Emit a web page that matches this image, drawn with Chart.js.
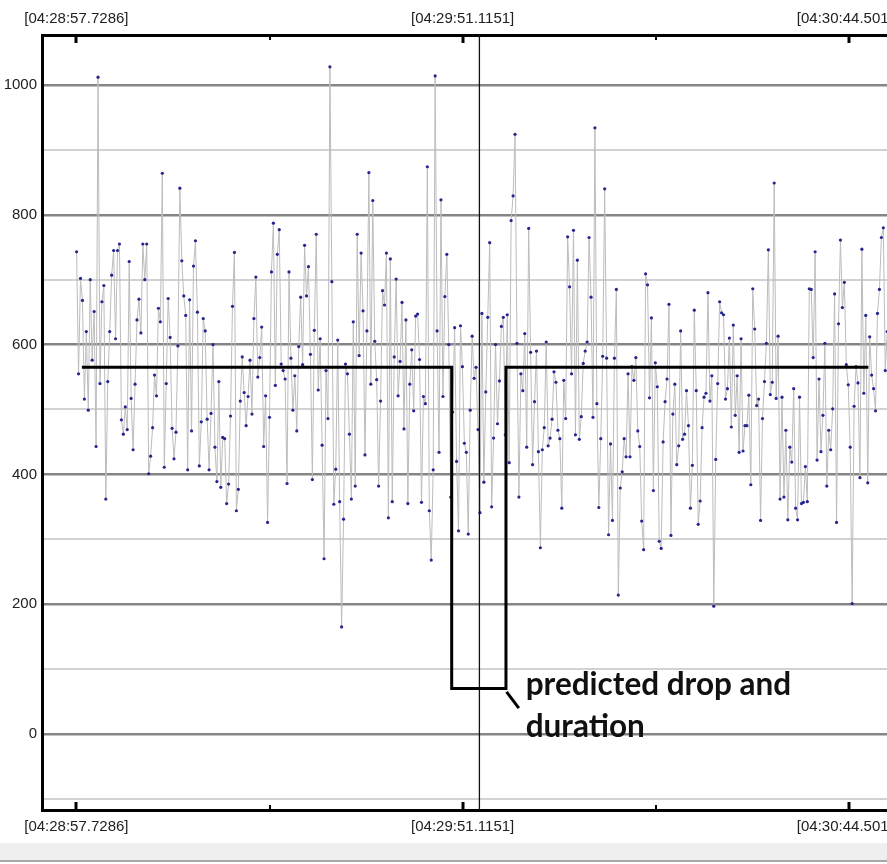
<!DOCTYPE html>
<html lang="en">
  <head>
    <meta charset="UTF-8" />
    <title>Predicted drop and duration</title>
    <style>
      html,
      body {
        margin: 0;
        padding: 0;
        background: #fff;
        overflow: hidden;
      }
      .frame {
        position: relative;
        width: 887px;
        height: 864px;
        overflow: hidden;
      }
      canvas {
        display: block;
      }
      .statusbar {
        position: absolute;
        left: 0;
        top: 843px;
        width: 887px;
        height: 17px;
        background: #efefef;
        border-bottom: 2px solid #a8a8a8;
      }
    </style>
  </head>
  <body>
    <div class="frame">
      <canvas id="myChart" width="940" height="843"></canvas>
      <div class="statusbar"></div>
    </div>

    <script src="https://cdn.jsdelivr.net/npm/chart.js"></script>
    <script>
      // measured signal, one reading per sample
      const readings = [
        743, 555, 702, 668, 516, 620, 499, 700, 576, 651, 443, 1012, 540, 666, 691, 362, 543, 620, 707, 745,
        609, 745, 755, 484, 462, 504, 469, 728, 517, 438, 539, 638, 670, 618, 755, 700, 755, 401, 428, 472,
        553, 521, 656, 635, 864, 411, 540, 671, 611, 471, 424, 465, 598, 841, 729, 675, 645, 407, 669, 467,
        721, 760, 650, 413, 481, 640, 621, 485, 407, 494, 600, 442, 389, 543, 380, 457, 455, 355, 385, 490,
        659, 742, 344, 377, 513, 581, 526, 475, 520, 576, 493, 640, 704,
        550, 580, 627, 443, 521, 326, 488, 712, 787, 537, 739, 777, 570, 560, 547, 386, 712, 579, 499, 552,
        467, 597, 673, 569, 753, 675, 720, 585, 392, 622, 770, 530, 609, 445, 270, 560, 486, 1028, 697, 354,
        408, 607, 358, 165, 331, 570, 555, 462, 362, 635, 382, 770, 583, 741, 652, 430, 621, 865, 539, 822,
        605, 546, 382, 513, 683, 661, 741, 333, 732, 358, 581, 701, 521, 574, 665, 470, 638, 355, 539, 592,
        498, 644, 647, 577, 357, 520, 509, 874, 344, 268, 407, 1014, 621, 434, 823, 520, 674, 739, 600, 365,
        496, 626,
        420, 313, 629, 566, 448, 434, 308, 499, 613, 548, 565, 469, 341, 648, 388, 527, 642, 757, 350, 456,
        600, 478, 544, 628, 642, 461, 646, 418, 791, 829, 924, 602, 365, 555, 529, 617, 442, 779, 588, 415,
        512, 590, 435, 287, 438, 472, 604, 444, 456, 485, 558, 542, 468, 455, 348, 545, 486, 766, 689, 555,
        776, 461, 730, 454, 489,
        571, 590, 604, 765, 673, 488, 934, 509, 349, 455, 582, 840, 579, 307, 447, 329, 579, 685, 214, 379,
        404, 455, 427, 555, 427, 566, 545, 580, 467, 443, 328, 284, 709, 692, 518, 641, 375, 572, 535, 297,
        286, 450, 512, 547, 662, 306, 493, 539, 415, 444, 621, 454, 462, 529, 475, 348, 414, 653, 529, 323,
        359, 472, 519, 525, 680, 513, 552, 197, 423, 540,
        666, 649, 646, 516, 532, 610, 473, 630, 491, 552, 434, 609, 436, 475, 475, 522, 384, 686, 624, 506,
        516, 329, 486, 543, 602, 746, 523, 542, 849, 517, 613, 362, 519, 365, 468, 330, 442, 419, 532, 348,
        330, 519, 355, 357, 412, 358, 686, 685, 580, 743, 422, 547, 435, 491, 602, 382, 468, 438, 501, 678,
        326, 632, 761, 657, 696, 569, 538, 442, 201, 505, 566, 541, 395, 747, 525, 645, 387, 612, 553, 532,
        498, 648, 685, 765, 780, 560, 620,
      ];
      const firstSample = 0.03; // seconds after 04:28:57.7286
      const sampleStep = 0.2693;
      const sampleTimes = readings.map((v, i) => firstSample + i * sampleStep);

      // predicted level (step)
      const predictedTimes = [0.76, 51.87, 51.87, 59.37, 59.37, 109.45];
      const predictedValues = [565, 565, 70, 70, 565, 565];

      const cursorTime = 55.7;

      const tickTimes = [0, 53.3865, 106.773];
      const tickLabels = ["[04:28:57.7286]", "[04:29:51.1151]", "[04:30:44.5016]"];
      const minorTickTimes = [26.693, 80.08];
      const yTickValues = [-100, 0, 100, 200, 300, 400, 500, 600, 700, 800, 900, 1000];

      const noteLines = ["predicted drop and", "duration"];
      const noteTime = 62.1;
      const noteValues = [60, -4.6];
      const leaderTimes = [59.45, 61.15];
      const leaderValues = [65, 40];

      const xMin = -4.75;
      const xMax = 118.8;

      const tickFont = { family: "'Liberation Sans', Arial, sans-serif", size: 15 };

      const overlay = {
        id: "overlay",
        afterDatasetsDraw(chart) {
          const { ctx, chartArea, scales } = chart;
          const x = scales.x;
          const y = scales.y;
          ctx.save();
          ctx.strokeStyle = "#000";

          tickTimes.forEach((t) => {
            const px = Math.round(x.getPixelForValue(t));
            ctx.lineWidth = 3;
            ctx.beginPath();
            ctx.moveTo(px, chartArea.top);
            ctx.lineTo(px, chartArea.top + 8);
            ctx.moveTo(px, chartArea.bottom);
            ctx.lineTo(px, chartArea.bottom - 8);
            ctx.stroke();
          });
          minorTickTimes.forEach((t) => {
            const px = Math.round(x.getPixelForValue(t));
            ctx.lineWidth = 2;
            ctx.beginPath();
            ctx.moveTo(px, chartArea.top);
            ctx.lineTo(px, chartArea.top + 5);
            ctx.moveTo(px, chartArea.bottom);
            ctx.lineTo(px, chartArea.bottom - 5);
            ctx.stroke();
          });

          // leader line to the note
          ctx.lineWidth = 3;
          ctx.beginPath();
          ctx.moveTo(x.getPixelForValue(leaderTimes[0]), y.getPixelForValue(leaderValues[0]));
          ctx.lineTo(x.getPixelForValue(leaderTimes[1]), y.getPixelForValue(leaderValues[1]));
          ctx.stroke();

          ctx.fillStyle = "#111";
          ctx.font = "bold 31.5px Lato, 'Open Sans', sans-serif";
          ctx.textBaseline = "alphabetic";
          noteLines.forEach((line, i) => {
            ctx.fillText(line, x.getPixelForValue(noteTime), y.getPixelForValue(noteValues[i]));
          });
          ctx.restore();
        },
      };

      const data = {
        labels: sampleTimes,
        datasets: [
          {
            label: "predicted",
            data: predictedTimes.map((t, i) => ({ x: t, y: predictedValues[i] })),
            borderColor: "#000",
            borderWidth: 3,
            pointRadius: 0,
            borderJoinStyle: "miter",
            order: 1,
          },
          {
            label: "cursor",
            data: [
              { x: cursorTime, y: -200 },
              { x: cursorTime, y: 1200 },
            ],
            borderColor: "#111",
            borderWidth: 1.3,
            pointRadius: 0,
            order: 2,
          },
          {
            label: "signal",
            data: readings,
            borderColor: "#bcbcbc",
            borderWidth: 1,
            pointRadius: 1.6,
            pointBorderWidth: 0,
            pointBackgroundColor: "#25258f",
            order: 3,
          },
        ],
      };

      const config = {
        type: "line",
        data: data,
        options: {
          responsive: false,
          animation: false,
          devicePixelRatio: 1,
          layout: { padding: 0 },
          plugins: {
            legend: { display: false },
            tooltip: { enabled: false },
          },
          scales: {
            x: {
              type: "linear",
              position: "bottom",
              min: xMin,
              max: xMax,
              afterBuildTicks: (scale) => {
                scale.ticks = tickTimes.map((v) => ({ value: v }));
              },
              afterFit: (scale) => {
                scale.height = 33;
              },
              ticks: {
                autoSkip: false,
                maxRotation: 0,
                padding: 8,
                color: "#222",
                font: tickFont,
                callback: (value) => tickLabels[tickTimes.indexOf(value)],
              },
              grid: { display: false, drawTicks: false },
              border: { display: true, color: "#000", width: 3 },
            },
            xTop: {
              type: "linear",
              position: "top",
              min: xMin,
              max: xMax,
              afterBuildTicks: (scale) => {
                scale.ticks = tickTimes.map((v) => ({ value: v }));
              },
              afterFit: (scale) => {
                scale.height = 35;
              },
              ticks: {
                autoSkip: false,
                maxRotation: 0,
                padding: 7,
                color: "#222",
                font: tickFont,
                callback: (value) => tickLabels[tickTimes.indexOf(value)],
              },
              grid: { display: false, drawTicks: false },
              border: { display: true, color: "#000", width: 3 },
            },
            y: {
              min: -117.1,
              max: 1077,
              afterBuildTicks: (scale) => {
                scale.ticks = yTickValues.map((v) => ({ value: v }));
              },
              afterFit: (scale) => {
                scale.width = 42;
              },
              ticks: {
                padding: 5,
                color: "#222",
                font: tickFont,
                callback: (value) => (value >= 0 && value % 200 === 0 ? String(value) : ""),
              },
              grid: {
                drawTicks: false,
                color: (ctx) => (ctx.tick && ctx.tick.value % 200 === 0 ? "#858585" : "#d2d2d2"),
                lineWidth: (ctx) => (ctx.tick && ctx.tick.value % 200 === 0 ? 2.5 : 2),
              },
              border: { display: true, color: "#000", width: 3 },
            },
          },
        },
        plugins: [overlay],
      };

      const myChart = new Chart(document.getElementById("myChart"), config);
    </script>
  </body>
</html>
